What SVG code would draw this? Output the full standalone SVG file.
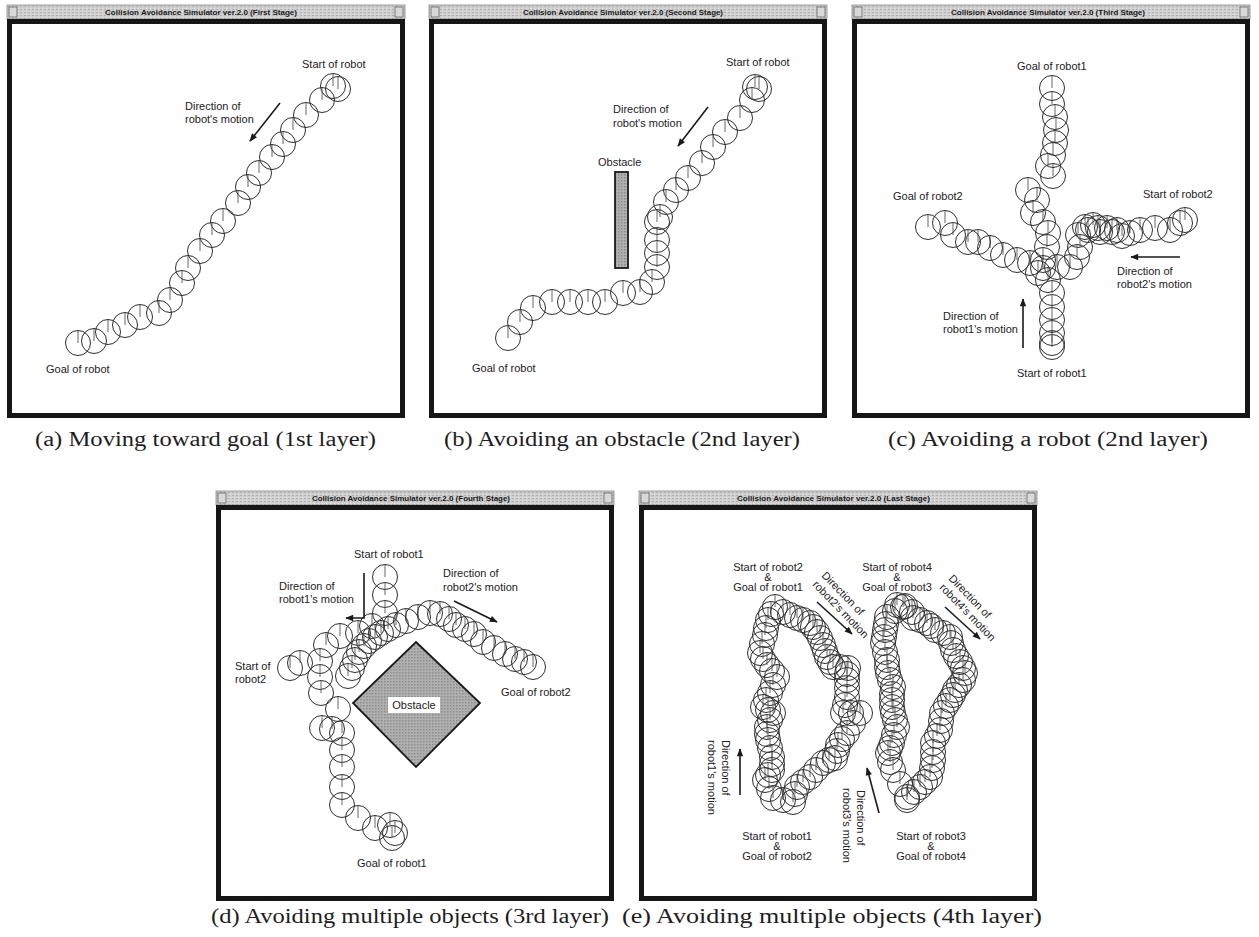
<svg xmlns="http://www.w3.org/2000/svg" width="1259" height="937" viewBox="0 0 1259 937">
<style>
.tb{fill:url(#tbp);stroke:#8a8a8a;stroke-width:0.8}
.tt{font-family:"Liberation Sans",Arial,sans-serif;font-size:7.5px;font-weight:bold;fill:#1a1a1a}
.fr{fill:#fff;stroke:#161616;stroke-width:5}
.btn{fill:#d8d8d8;stroke:#666;stroke-width:0.8}
.lb{font-family:"Liberation Sans",Arial,sans-serif;font-size:11px;fill:#222}
.cap{font-family:"Liberation Serif","Times New Roman",serif;font-size:20px;fill:#1e1e1e}
.ar{fill:none;stroke:#1a1a1a;stroke-width:1.6;marker-end:url(#ah)}
.obs{fill:url(#dots);stroke:#1a1a1a;stroke-width:1.8}
</style>
<defs>
<pattern id="tbp" width="4" height="3" patternUnits="userSpaceOnUse"><rect width="4" height="3" fill="#cfcfcf"/><rect width="2" height="1" fill="#b3b3b3"/><rect x="2" y="2" width="1" height="1" fill="#e6e6e6"/></pattern>
<pattern id="dots" width="3" height="3" patternUnits="userSpaceOnUse"><rect width="3" height="3" fill="#b0b0b0"/><rect width="1.5" height="1.5" fill="#8c8c8c"/></pattern>
<marker id="ah" viewBox="0 0 10 10" refX="9" refY="5" markerWidth="10" markerHeight="8" orient="auto" markerUnits="userSpaceOnUse"><path d="M0,1 L10,5 L0,9 z" fill="#1a1a1a"/></marker>
<g id="rob"><circle r="12.5" fill="none" stroke="#2e2e2e" stroke-width="1"/><line x1="0" y1="0" x2="0" y2="-12" stroke="#555" stroke-width="0.9"/></g>
</defs>
<rect width="1259" height="937" fill="#fff"/>

<!-- Panel (a) -->
<g id="panel-a">
<rect class="tb" x="7" y="5" width="398" height="14"/>
<rect class="btn" x="9" y="7" width="8" height="10"/><rect class="btn" x="395" y="7" width="8" height="10"/>
<text class="tt" x="105" y="15" textLength="192" lengthAdjust="spacingAndGlyphs">Collision Avoidance Simulator ver.2.0 (First Stage)</text>
<rect class="fr" x="9.5" y="21.5" width="393" height="394"/>
<g id="robot-a">
<use href="#rob" x="338" y="89"/><use href="#rob" x="333" y="86"/><use href="#rob" x="322" y="100"/><use href="#rob" x="306" y="115"/><use href="#rob" x="293" y="130"/><use href="#rob" x="283" y="144"/><use href="#rob" x="272" y="157"/><use href="#rob" x="259" y="173"/><use href="#rob" x="248" y="187"/><use href="#rob" x="238" y="203"/><use href="#rob" x="223" y="221"/><use href="#rob" x="212" y="235"/><use href="#rob" x="200" y="251"/><use href="#rob" x="188" y="268"/><use href="#rob" x="182" y="283"/><use href="#rob" x="170" y="300"/><use href="#rob" x="159" y="313"/><use href="#rob" x="140" y="317"/><use href="#rob" x="125" y="325"/><use href="#rob" x="108" y="332"/><use href="#rob" x="94" y="341"/><use href="#rob" x="78" y="343"/>
</g>
<text class="lb" x="302" y="68">Start of robot</text>
<text class="lb" x="185" y="110">Direction of</text>
<text class="lb" x="185" y="123">robot's motion</text>
<text class="lb" x="46" y="373">Goal of robot</text>
</g>

<!-- Panel (b) -->
<g id="panel-b">
<rect class="tb" x="429" y="5" width="398" height="14"/>
<rect class="btn" x="431" y="7" width="8" height="10"/><rect class="btn" x="817" y="7" width="8" height="10"/>
<text class="tt" x="523" y="15" textLength="200" lengthAdjust="spacingAndGlyphs">Collision Avoidance Simulator ver.2.0 (Second Stage)</text>
<rect class="fr" x="431.5" y="21.5" width="393" height="394"/>
<rect id="obstacle-b" class="obs" x="615" y="172" width="13" height="96"/>
<g id="robot-b">
<use href="#rob" x="759" y="89"/><use href="#rob" x="755" y="87"/><use href="#rob" x="752" y="100"/><use href="#rob" x="740" y="118"/><use href="#rob" x="725" y="132"/><use href="#rob" x="713" y="147"/><use href="#rob" x="702" y="163"/><use href="#rob" x="688" y="178"/><use href="#rob" x="676" y="190"/><use href="#rob" x="666" y="202"/><use href="#rob" x="660" y="217"/><use href="#rob" x="657" y="222"/><use href="#rob" x="657" y="240"/><use href="#rob" x="657" y="253"/><use href="#rob" x="657" y="267"/><use href="#rob" x="652" y="282"/><use href="#rob" x="640" y="292"/><use href="#rob" x="623" y="293"/><use href="#rob" x="605" y="302"/><use href="#rob" x="588" y="302"/><use href="#rob" x="570" y="302"/><use href="#rob" x="552" y="302"/><use href="#rob" x="533" y="308"/><use href="#rob" x="520" y="322"/><use href="#rob" x="508" y="338"/>
</g>
<text class="lb" x="726" y="66">Start of robot</text>
<text class="lb" x="613" y="113">Direction of</text>
<text class="lb" x="613" y="127">robot's motion</text>
<text class="lb" x="598" y="166">Obstacle</text>
<text class="lb" x="472" y="372">Goal of robot</text>
</g>

<!-- Panel (c) -->
<g id="panel-c">
<rect class="tb" x="852" y="5" width="398" height="14"/>
<rect class="btn" x="854" y="7" width="8" height="10"/><rect class="btn" x="1240" y="7" width="8" height="10"/>
<text class="tt" x="951" y="15" textLength="194" lengthAdjust="spacingAndGlyphs">Collision Avoidance Simulator ver.2.0 (Third Stage)</text>
<rect class="fr" x="854.5" y="21.5" width="393" height="394"/>
<g id="robot1-c">
<use href="#rob" x="1052" y="347"/><use href="#rob" x="1052" y="343"/><use href="#rob" x="1052" y="333"/><use href="#rob" x="1052" y="320"/><use href="#rob" x="1052" y="307"/><use href="#rob" x="1052" y="293"/><use href="#rob" x="1048" y="280"/><use href="#rob" x="1038" y="273"/><use href="#rob" x="1043" y="260"/><use href="#rob" x="1047" y="247"/><use href="#rob" x="1048" y="233"/><use href="#rob" x="1043" y="222"/><use href="#rob" x="1033" y="213"/><use href="#rob" x="1037" y="200"/><use href="#rob" x="1028" y="190"/><use href="#rob" x="1053" y="176"/><use href="#rob" x="1048" y="166"/><use href="#rob" x="1053" y="155"/><use href="#rob" x="1055" y="143"/><use href="#rob" x="1056" y="130"/><use href="#rob" x="1055" y="117"/><use href="#rob" x="1052" y="104"/><use href="#rob" x="1052" y="88"/>
</g>
<g id="robot2-c">
<use href="#rob" x="1185" y="220"/><use href="#rob" x="1180" y="223"/><use href="#rob" x="1170" y="230"/><use href="#rob" x="1155" y="228"/><use href="#rob" x="1140" y="230"/><use href="#rob" x="1130" y="233"/><use href="#rob" x="1122" y="236"/><use href="#rob" x="1117" y="230"/><use href="#rob" x="1112" y="232"/><use href="#rob" x="1107" y="228"/><use href="#rob" x="1100" y="232"/><use href="#rob" x="1098" y="228"/><use href="#rob" x="1093" y="225"/><use href="#rob" x="1088" y="230"/><use href="#rob" x="1085" y="227"/><use href="#rob" x="1078" y="235"/><use href="#rob" x="1080" y="247"/><use href="#rob" x="1077" y="257"/><use href="#rob" x="1070" y="267"/><use href="#rob" x="1057" y="267"/><use href="#rob" x="1043" y="268"/><use href="#rob" x="1030" y="263"/><use href="#rob" x="1017" y="260"/><use href="#rob" x="1003" y="255"/><use href="#rob" x="990" y="248"/><use href="#rob" x="978" y="242"/><use href="#rob" x="968" y="242"/><use href="#rob" x="953" y="235"/><use href="#rob" x="945" y="223"/><use href="#rob" x="928" y="227"/>
</g>
<text class="lb" x="1017" y="70">Goal of robot1</text>
<text class="lb" x="893" y="200">Goal of robot2</text>
<text class="lb" x="1143" y="198">Start of robot2</text>
<text class="lb" x="1117" y="275">Direction of</text>
<text class="lb" x="1117" y="288">robot2's motion</text>
<text class="lb" x="943" y="320">Direction of</text>
<text class="lb" x="943" y="333">robot1's motion</text>
<text class="lb" x="1017" y="377">Start of robot1</text>
</g>

<!-- Panel (d) -->
<g id="panel-d">
<rect class="tb" x="216" y="491" width="398" height="14"/>
<rect class="btn" x="218" y="493" width="8" height="10"/><rect class="btn" x="604" y="493" width="8" height="10"/>
<text class="tt" x="312" y="501" textLength="198" lengthAdjust="spacingAndGlyphs">Collision Avoidance Simulator ver.2.0 (Fourth Stage)</text>
<rect class="fr" x="218.5" y="507.5" width="393" height="391"/>
<g id="obstacle-d">
<polygon class="obs" points="416,642 480,703 416,767 353,703"/>
<rect x="388" y="697" width="52" height="16" fill="#fff"/>
<text class="lb" x="414" y="709" text-anchor="middle">Obstacle</text>
</g>
<g id="robot1-d">
<use href="#rob" x="385" y="577"/><use href="#rob" x="385" y="595"/><use href="#rob" x="385" y="613"/><use href="#rob" x="372" y="626"/><use href="#rob" x="358" y="633"/><use href="#rob" x="340" y="636"/><use href="#rob" x="326" y="645"/><use href="#rob" x="320" y="661"/><use href="#rob" x="320" y="677"/><use href="#rob" x="321" y="693"/><use href="#rob" x="338" y="709"/><use href="#rob" x="322" y="728"/><use href="#rob" x="332" y="729"/><use href="#rob" x="342" y="733"/><use href="#rob" x="342" y="750"/><use href="#rob" x="342" y="767"/><use href="#rob" x="342" y="787"/><use href="#rob" x="342" y="805"/><use href="#rob" x="358" y="818"/><use href="#rob" x="375" y="828"/><use href="#rob" x="390" y="825"/><use href="#rob" x="395" y="833"/><use href="#rob" x="392" y="838"/>
</g>
<g id="robot2-d">
<use href="#rob" x="290" y="668"/><use href="#rob" x="300" y="663"/><use href="#rob" x="348" y="676"/><use href="#rob" x="352" y="668"/><use href="#rob" x="355" y="660"/><use href="#rob" x="359" y="652"/><use href="#rob" x="364" y="646"/><use href="#rob" x="369" y="641"/><use href="#rob" x="375" y="637"/><use href="#rob" x="381" y="633"/><use href="#rob" x="388" y="629"/><use href="#rob" x="396" y="625"/><use href="#rob" x="406" y="621"/><use href="#rob" x="418" y="617"/><use href="#rob" x="430" y="613"/><use href="#rob" x="440" y="614"/><use href="#rob" x="449" y="619"/><use href="#rob" x="456" y="625"/><use href="#rob" x="465" y="629"/><use href="#rob" x="474" y="634"/><use href="#rob" x="483" y="642"/><use href="#rob" x="494" y="648"/><use href="#rob" x="505" y="654"/><use href="#rob" x="515" y="659"/><use href="#rob" x="524" y="662"/><use href="#rob" x="533" y="667"/>
</g>
<text class="lb" x="354" y="558">Start of robot1</text>
<text class="lb" x="279" y="590">Direction of</text>
<text class="lb" x="279" y="603">robot1's motion</text>
<text class="lb" x="443" y="577">Direction of</text>
<text class="lb" x="443" y="591">robot2's motion</text>
<text class="lb" x="235" y="670">Start of</text>
<text class="lb" x="235" y="683">robot2</text>
<text class="lb" x="501" y="696">Goal of robot2</text>
<text class="lb" x="357" y="867">Goal of robot1</text>
</g>

<!-- Panel (e) -->
<g id="panel-e">
<rect class="tb" x="639" y="491" width="398" height="14"/>
<rect class="btn" x="641" y="493" width="8" height="10"/><rect class="btn" x="1027" y="493" width="8" height="10"/>
<text class="tt" x="737" y="501" textLength="193" lengthAdjust="spacingAndGlyphs">Collision Avoidance Simulator ver.2.0 (Last Stage)</text>
<rect class="fr" x="641.5" y="507.5" width="393" height="391"/>
<g id="loop-12-e">
<use href="#rob" x="775" y="607"/><use href="#rob" x="771" y="614"/><use href="#rob" x="768" y="620"/><use href="#rob" x="766" y="628"/><use href="#rob" x="765" y="635"/><use href="#rob" x="762" y="644"/><use href="#rob" x="760" y="653"/><use href="#rob" x="763" y="659"/><use href="#rob" x="767" y="665"/><use href="#rob" x="772" y="671"/><use href="#rob" x="777" y="677"/><use href="#rob" x="773" y="685"/><use href="#rob" x="770" y="693"/><use href="#rob" x="766" y="700"/><use href="#rob" x="763" y="707"/><use href="#rob" x="768" y="710"/><use href="#rob" x="773" y="713"/><use href="#rob" x="770" y="720"/><use href="#rob" x="767" y="727"/><use href="#rob" x="767" y="734"/><use href="#rob" x="768" y="740"/><use href="#rob" x="770" y="748"/><use href="#rob" x="772" y="757"/><use href="#rob" x="772" y="764"/><use href="#rob" x="772" y="770"/><use href="#rob" x="768" y="775"/><use href="#rob" x="765" y="780"/><use href="#rob" x="769" y="789"/><use href="#rob" x="773" y="798"/><use href="#rob" x="783" y="800"/><use href="#rob" x="793" y="802"/><use href="#rob" x="795" y="794"/><use href="#rob" x="797" y="787"/><use href="#rob" x="803" y="782"/><use href="#rob" x="810" y="777"/><use href="#rob" x="816" y="770"/><use href="#rob" x="823" y="763"/><use href="#rob" x="829" y="760"/><use href="#rob" x="835" y="758"/><use href="#rob" x="837" y="751"/><use href="#rob" x="838" y="745"/><use href="#rob" x="842" y="739"/><use href="#rob" x="847" y="733"/><use href="#rob" x="853" y="723"/><use href="#rob" x="860" y="713"/><use href="#rob" x="851" y="713"/><use href="#rob" x="843" y="713"/><use href="#rob" x="845" y="705"/><use href="#rob" x="847" y="697"/><use href="#rob" x="847" y="688"/><use href="#rob" x="847" y="680"/><use href="#rob" x="847" y="674"/><use href="#rob" x="848" y="668"/><use href="#rob" x="840" y="667"/><use href="#rob" x="833" y="667"/><use href="#rob" x="830" y="662"/><use href="#rob" x="827" y="657"/><use href="#rob" x="825" y="651"/><use href="#rob" x="823" y="645"/><use href="#rob" x="820" y="638"/><use href="#rob" x="817" y="632"/><use href="#rob" x="813" y="627"/><use href="#rob" x="810" y="623"/><use href="#rob" x="803" y="620"/><use href="#rob" x="797" y="618"/><use href="#rob" x="790" y="615"/><use href="#rob" x="783" y="612"/>
</g>
<g id="loop-34-e">
<use href="#rob" x="897" y="605"/><use href="#rob" x="903" y="607"/><use href="#rob" x="895" y="611"/><use href="#rob" x="887" y="617"/><use href="#rob" x="886" y="624"/><use href="#rob" x="885" y="630"/><use href="#rob" x="884" y="637"/><use href="#rob" x="883" y="643"/><use href="#rob" x="885" y="652"/><use href="#rob" x="887" y="660"/><use href="#rob" x="887" y="667"/><use href="#rob" x="888" y="673"/><use href="#rob" x="890" y="680"/><use href="#rob" x="893" y="687"/><use href="#rob" x="892" y="694"/><use href="#rob" x="892" y="700"/><use href="#rob" x="892" y="707"/><use href="#rob" x="893" y="713"/><use href="#rob" x="895" y="720"/><use href="#rob" x="897" y="727"/><use href="#rob" x="894" y="735"/><use href="#rob" x="892" y="743"/><use href="#rob" x="890" y="748"/><use href="#rob" x="888" y="753"/><use href="#rob" x="890" y="762"/><use href="#rob" x="893" y="770"/><use href="#rob" x="900" y="784"/><use href="#rob" x="907" y="797"/><use href="#rob" x="907" y="800"/><use href="#rob" x="914" y="792"/><use href="#rob" x="920" y="787"/><use href="#rob" x="925" y="782"/><use href="#rob" x="930" y="777"/><use href="#rob" x="932" y="768"/><use href="#rob" x="933" y="760"/><use href="#rob" x="933" y="752"/><use href="#rob" x="933" y="743"/><use href="#rob" x="937" y="736"/><use href="#rob" x="940" y="730"/><use href="#rob" x="941" y="721"/><use href="#rob" x="942" y="713"/><use href="#rob" x="946" y="706"/><use href="#rob" x="950" y="700"/><use href="#rob" x="953" y="695"/><use href="#rob" x="955" y="690"/><use href="#rob" x="959" y="685"/><use href="#rob" x="963" y="680"/><use href="#rob" x="965" y="673"/><use href="#rob" x="963" y="668"/><use href="#rob" x="960" y="662"/><use href="#rob" x="956" y="656"/><use href="#rob" x="953" y="650"/><use href="#rob" x="951" y="643"/><use href="#rob" x="950" y="637"/><use href="#rob" x="943" y="633"/><use href="#rob" x="935" y="630"/><use href="#rob" x="931" y="626"/><use href="#rob" x="927" y="623"/><use href="#rob" x="920" y="620"/><use href="#rob" x="913" y="618"/><use href="#rob" x="912" y="612"/><use href="#rob" x="905" y="606"/>
</g>
<text class="lb" x="768" y="571" text-anchor="middle">Start of robot2</text>
<text class="lb" x="768" y="581" text-anchor="middle" font-size="8">&amp;</text>
<text class="lb" x="768" y="591" text-anchor="middle">Goal of robot1</text>
<text class="lb" x="897" y="571" text-anchor="middle">Start of robot4</text>
<text class="lb" x="897" y="581" text-anchor="middle" font-size="8">&amp;</text>
<text class="lb" x="897" y="591" text-anchor="middle">Goal of robot3</text>
<text class="lb" transform="translate(821,576) rotate(46)">Direction of</text>
<text class="lb" transform="translate(812,585) rotate(46)">robot2's motion</text>
<text class="lb" transform="translate(948,579) rotate(46)">Direction of</text>
<text class="lb" transform="translate(939,588) rotate(46)">robot4's motion</text>
<text class="lb" transform="translate(722,740) rotate(90)">Direction of</text>
<text class="lb" transform="translate(708,740) rotate(90)">robot1's motion</text>
<text class="lb" transform="translate(857,790) rotate(90)">Direction of</text>
<text class="lb" transform="translate(843,788) rotate(90)">robot3's motion</text>
<text class="lb" x="777" y="840" text-anchor="middle">Start of robot1</text>
<text class="lb" x="777" y="850" text-anchor="middle" font-size="8">&amp;</text>
<text class="lb" x="777" y="860" text-anchor="middle">Goal of robot2</text>
<text class="lb" x="931" y="840" text-anchor="middle">Start of robot3</text>
<text class="lb" x="931" y="850" text-anchor="middle" font-size="8">&amp;</text>
<text class="lb" x="931" y="860" text-anchor="middle">Goal of robot4</text>
</g>

<!-- Direction arrows -->
<g id="arrows">
<line class="ar" x1="280" y1="103" x2="250" y2="141"/>
<line class="ar" x1="708" y1="107" x2="678" y2="146"/>
<line class="ar" x1="1180" y1="257" x2="1131" y2="257"/>
<line class="ar" x1="1023" y1="348" x2="1023" y2="299"/>
<polyline class="ar" points="364,573 364,618 346,618"/>
<line class="ar" x1="454" y1="601" x2="497" y2="622"/>
<line class="ar" x1="817" y1="602" x2="852" y2="634"/>
<line class="ar" x1="945" y1="607" x2="980" y2="639"/>
<line class="ar" x1="740" y1="795" x2="740" y2="749"/>
<line class="ar" x1="879" y1="813" x2="867" y2="768"/>
</g>

<!-- Captions -->
<g id="captions">
<text class="cap" x="35" y="446" textLength="341" lengthAdjust="spacingAndGlyphs">(a) Moving toward goal (1st layer)</text>
<text class="cap" x="444" y="446" textLength="356" lengthAdjust="spacingAndGlyphs">(b) Avoiding an obstacle (2nd layer)</text>
<text class="cap" x="888" y="446" textLength="320" lengthAdjust="spacingAndGlyphs">(c) Avoiding a robot (2nd layer)</text>
<text class="cap" x="211" y="923" textLength="398" lengthAdjust="spacingAndGlyphs">(d) Avoiding multiple objects (3rd layer)</text>
<text class="cap" x="622" y="923" textLength="420" lengthAdjust="spacingAndGlyphs">(e) Avoiding multiple objects (4th layer)</text>
</g>
</svg>
